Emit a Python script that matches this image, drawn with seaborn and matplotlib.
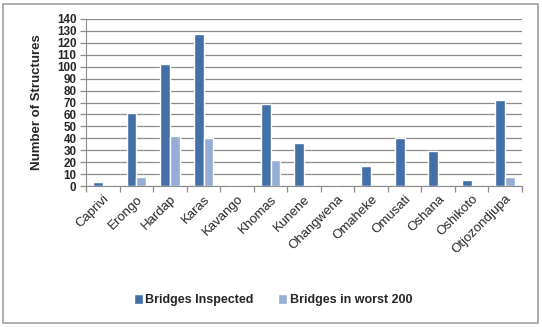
import matplotlib
matplotlib.use("Agg")
import matplotlib.pyplot as plt
import seaborn as sns
import pandas as pd
import numpy as np
from matplotlib.patches import Rectangle

regions = ["Caprivi", "Erongo", "Hardap", "Karas", "Kavango", "Khomas", "Kunene",
           "Ohangwena", "Omaheke", "Omusati", "Oshana", "Oshikoto", "Otjozondjupa"]
inspected = [3, 61, 102, 127, 1, 69, 36, 1, 17, 40, 29, 5, 72]
worst200 = [0, 8, 42, 40, 0, 22, 1, 0, 0, 0, 1, 0, 8]
series_names = ["Bridges Inspected", "Bridges in worst 200"]
yticks = list(range(0, 141, 10))

df = pd.DataFrame({
    "Region": regions * 2,
    "Value": inspected + worst200,
    "Series": [series_names[0]] * len(regions) + [series_names[1]] * len(regions),
})

sns.set_style("white")
plt.rcParams['font.family'] = ['Liberation Sans', 'DejaVu Sans']

fig = plt.figure(figsize=(5.42, 3.27), dpi=100)
ax = fig.add_axes([0.159, 0.431, 0.804, 0.511])
palette = {series_names[0]: "#4470A8", series_names[1]: "#95AED5"}
sns.barplot(data=df, x="Region", y="Value", hue="Series", palette=palette,
            width=0.58, ax=ax, saturation=1, legend=True)

ax.set_ylim(0, 140)
ax.set_xlim(-0.5, len(regions) - 0.5)
ax.set_yticks(yticks)
ax.set_yticklabels([str(t) for t in yticks], fontsize=8.4, fontweight="bold")
ax.yaxis.grid(True, color="#8c8c8c", linewidth=0.9)
ax.set_axisbelow(True)
ax.set_xlabel("")
ax.set_ylabel("Number of Structures", fontsize=9.5, fontweight="bold", labelpad=10)
ax.set_xticks(range(len(regions)))
ax.set_xticklabels(regions, rotation=45, ha="right", rotation_mode="anchor", fontsize=9.5)
ax.tick_params(axis="x", which="major", length=0, pad=5)
ax.set_xticks(np.arange(-0.5, len(regions), 1.0), minor=True)
ax.tick_params(axis="x", which="minor", length=4, color="#8c8c8c", width=0.9, direction="out", bottom=True)
ax.tick_params(axis="y", length=4, color="#8c8c8c", width=0.9, left=True, pad=3)
for s in ["top", "right"]:
    ax.spines[s].set_visible(False)
ax.spines["left"].set_color("#8c8c8c")
ax.spines["bottom"].set_color("#8c8c8c")

leg = ax.legend(loc="center", bbox_to_anchor=(273 / 542, 1 - 300 / 327),
                bbox_transform=fig.transFigure, ncol=2, frameon=False,
                prop={"size": 9, "weight": "bold"}, handlelength=0.7,
                handleheight=0.9, handletextpad=0.2, columnspacing=2.0)

fig.patches.append(Rectangle((3 / 542, 4 / 327), 535 / 542, 319 / 327, transform=fig.transFigure,
                             fill=False, edgecolor="#a0a0a0", linewidth=1.2))

fig.savefig("out.png", dpi=100)
